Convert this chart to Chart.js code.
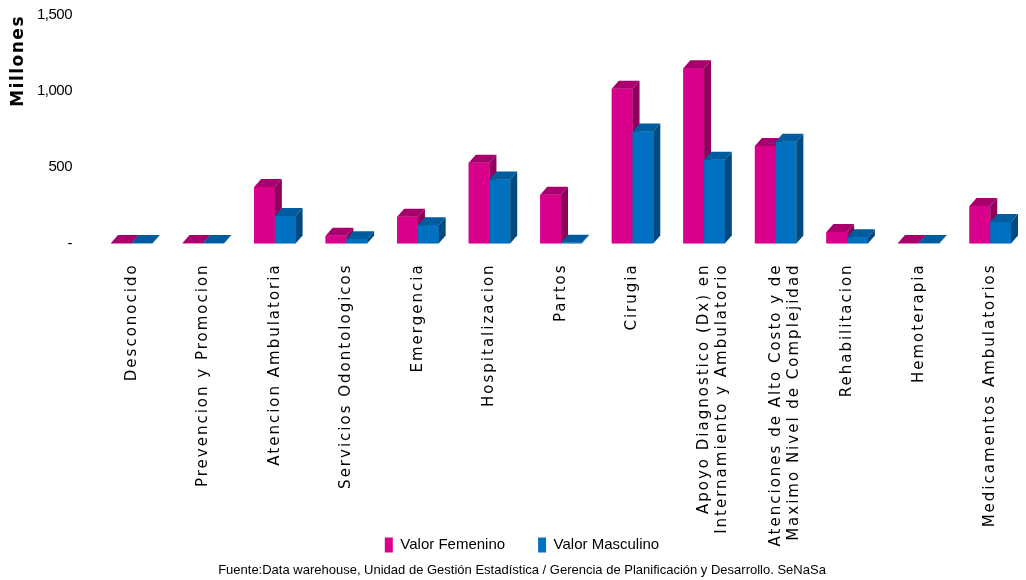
<!DOCTYPE html>
<html>
<head>
<meta charset="utf-8">
<script src="https://cdn.jsdelivr.net/npm/chart.js@4.4.1/dist/chart.umd.min.js"></script>
<style>
  html, body { margin: 0; padding: 0; background: #fff; }
  #wrap { width: 1026px; height: 580px; }
</style>
</head>
<body>
<div id="wrap"><canvas id="chart"></canvas></div>
<script>
// Categories (x axis)
const categories = [
    'Desconocido',
    'Prevencion y Promocion',
    'Atencion Ambulatoria',
    'Servicios Odontologicos',
    'Emergencia',
    'Hospitalizacion',
    'Partos',
    'Cirugia',
    ['Apoyo Diagnostico (Dx) en', 'Internamiento y Ambulatorio'],
    ['Atenciones de Alto Costo y de', 'Maximo Nivel de Complejidad'],
    'Rehabilitacion',
    'Hemoterapia',
    'Medicamentos Ambulatorios',
];

// Values in millions
const valorFemenino = [3, 2, 370, 50, 175, 530, 320, 1015, 1150, 640, 75, 3, 245];
const valorMasculino = [2, 2, 180, 28, 120, 420, 4, 735, 550, 668, 40, 2, 140];

const yTicks = [0, 500, 1000, 1500];

const FRONT = ['#d9008c', '#0070c0'];
const TOP = ['#a8006c', '#005c9e'];
const SIDE = ['#8e005b', '#004a80'];
const DEPTH_X = 7;
const DEPTH_Y = 8;

// Fake 3D: draws front, top and side faces from the bar elements, group by group
const bars3d = {
    id: 'bars3d',
    afterDatasetsDraw(chart) {
        const ctx = chart.ctx;
        const metas = chart.data.datasets.map((_, i) => chart.getDatasetMeta(i));
        ctx.save();
        for (let i = 0; i < categories.length; i++) {
            metas.forEach((meta, d) => {
                const bar = meta.data[i];
                if (!bar) return;
                const { x, y, base, width } = bar.getProps(['x', 'y', 'base', 'width'], true);
                const left = x - width / 2;
                const right = x + width / 2;
                // front
                ctx.fillStyle = FRONT[d];
                ctx.fillRect(left, y, width, base - y);
                // top
                ctx.fillStyle = TOP[d];
                ctx.beginPath();
                ctx.moveTo(left, y);
                ctx.lineTo(left + DEPTH_X, y - DEPTH_Y);
                ctx.lineTo(right + DEPTH_X, y - DEPTH_Y);
                ctx.lineTo(right, y);
                ctx.closePath();
                ctx.fill();
                // side
                ctx.fillStyle = SIDE[d];
                ctx.beginPath();
                ctx.moveTo(right, y);
                ctx.lineTo(right + DEPTH_X, y - DEPTH_Y);
                ctx.lineTo(right + DEPTH_X, base - DEPTH_Y);
                ctx.lineTo(right, base);
                ctx.closePath();
                ctx.fill();
            });
        }
        ctx.restore();
    },
};

// Excel spreads the axis text out a bit; wrap the scale draw calls with letterSpacing
function withSpacing(scale, fn, spacing) {
    const flag = '_spaced_' + fn;
    if (scale[flag]) return;
    const orig = scale[fn];
    scale[fn] = function (...args) {
        this.ctx.save();
        this.ctx.letterSpacing = spacing;
        orig.apply(this, args);
        this.ctx.restore();
    };
    scale[flag] = true;
}

const letterSpacing = {
    id: 'letterSpacing',
    afterLayout(chart) {
        // long x labels run down past the axis box, next to the legend, like the original
        chart.scales.x._computeLabelArea = () => undefined;
        withSpacing(chart.scales.x, 'drawLabels', '2px');
        withSpacing(chart.scales.y, 'drawLabels', '-0.5px');
        withSpacing(chart.scales.y, 'drawTitle', '1.5px');
    },
};

const sans = "'Liberation Sans', Arial, sans-serif";
const dejavu = "'DejaVu Sans', sans-serif";

new Chart(document.getElementById('chart'), {
    type: 'bar',
    data: {
        labels: categories,
        datasets: [
            {
                label: 'Valor Femenino',
                data: valorFemenino,
                backgroundColor: FRONT[0],
                borderWidth: 0,
            },
            {
                label: 'Valor Masculino',
                data: valorMasculino,
                backgroundColor: FRONT[1],
                borderWidth: 0,
            },
        ],
    },
    options: {
        responsive: true,
        maintainAspectRatio: false,
        animation: false,
        layout: { padding: { top: 15, left: 8, right: -10, bottom: 2 } },
        datasets: {
            bar: { categoryPercentage: 0.58, barPercentage: 1.0 },
        },
        plugins: {
            tooltip: { enabled: false },
            legend: {
                position: 'bottom',
                labels: {
                    color: '#000',
                    font: { family: sans, size: 15 },
                    boxWidth: 8,
                    boxHeight: 15,
                    padding: 8,
                    generateLabels: (chart) => {
                        const items = Chart.defaults.plugins.legend.labels.generateLabels(chart);
                        // wider gap between the two entries, as in the original
                        return items.map((it, i) => i === 0 ? { ...it, text: it.text + '      ' } : it);
                    },
                },
            },
            title: {
                display: true,
                position: 'bottom',
                text: 'Fuente:Data warehouse, Unidad de Gestión Estadística / Gerencia de Planificación y Desarrollo. SeNaSa',
                color: '#000',
                font: { family: sans, size: 13, weight: 'normal' },
                padding: { top: 0, bottom: 0 },
            },
        },
        scales: {
            x: {
                grid: { display: false, drawTicks: false },
                border: { display: false },
                afterFit: (scale) => {
                    scale.height = 286;
                    scale.paddingLeft = 0;
                    scale.paddingRight = -10;
                },
                ticks: {
                    color: '#000',
                    font: { family: dejavu, size: 15 },
                    minRotation: 90,
                    maxRotation: 90,
                    autoSkip: false,
                    padding: 20,
                },
            },
            y: {
                min: 0,
                max: 1500,
                afterBuildTicks: (scale) => {
                    scale.ticks = yTicks.map(v => ({ value: v }));
                },
                afterFit: (scale) => {
                    scale.width = 88;
                    scale.paddingTop = 0;
                    scale.paddingBottom = 0;
                },
                grid: { display: false, drawTicks: false },
                border: { display: false },
                ticks: {
                    color: '#000',
                    font: { family: sans, size: 15 },
                    padding: 24,
                    callback: (v) => v === 0 ? '-' : v.toLocaleString('en-US'),
                },
                title: {
                    display: true,
                    text: 'Millones',
                    align: 'end',
                    color: '#000',
                    font: { family: dejavu, size: 17, weight: 'bold' },
                    padding: { top: 0, bottom: 0 },
                },
            },
        },
    },
    plugins: [bars3d, letterSpacing],
});
</script>
</body>
</html>
